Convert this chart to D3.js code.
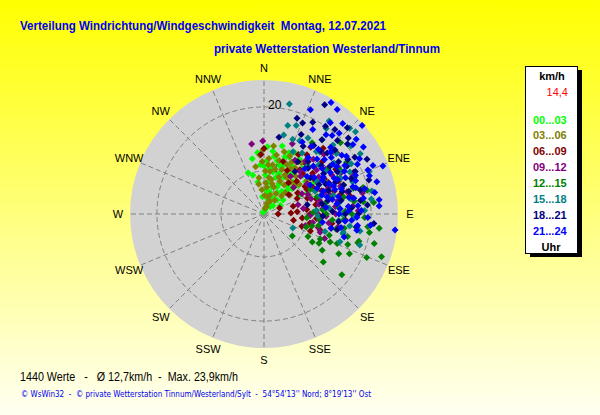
<!DOCTYPE html>
<html>
<head>
<meta charset="utf-8">
<script src="https://cdn.jsdelivr.net/npm/d3@7"></script>
<style>
  html, body { margin: 0; padding: 0; overflow: hidden; background: #ffff80; }
  svg { display: block; font-family: Arial, "Liberation Sans", sans-serif; }
</style>
</head>
<body>
<div id="chart"></div>
<script>
// Chart texts
const titleLine1 = 'Verteilung Windrichtung/Windgeschwindigkeit  Montag, 12.07.2021';
const titleLine2 = 'private Wetterstation Westerland/Tinnum';
const footerStats = '1440 Werte   -   Ø 12,7km/h  -  Max. 23,9km/h';
const footerCopy = '© WsWin32  -  © private Wetterstation Tinnum/Westerland/Sylt  -  54°54\'13\'\' Nord; 8°19\'13\'\' Ost';

// Compass labels (every 22.5 degrees, clockwise from north)
const compass = ['N', 'NNE', 'NE', 'ENE', 'E', 'ESE', 'SE', 'SSE', 'S', 'SSW', 'SW', 'WSW', 'W', 'WNW', 'NW', 'NNW'];

// speed axis (km/h) : centre = lowest speed of the day, rim = top of scale
const speedMin = 3.3;
const speedMax = 24.2;
const speedRings = [10, 20];
const currentSpeed = '14,4';

// legend: hour groups and colours
const hourLabels = ['00...03', '03...06', '06...09', '09...12', '12...15', '15...18', '18...21', '21...24'];
const hourColors = ['#00ff00', '#808000', '#800000', '#800080', '#008000', '#008080', '#000080', '#0000ff'];

// readings per hour group: [direction in degrees, speed in km/h]
const h00 = [[348,12.1],[354,12.9],[339,10.2],[344,9.6],[349,8.4],[2,9.4],[7,10.5],[16,7.7],[32,7.2],[16,5.6],
  [333,3.6],[27,8.7],[54,7.0],[7,8.2],[43,6.3],[44,8.5],[62,9.6],[64,10.8],[15,14.3],[3,11.6],
  [12,10.0],[20,4.4],[35,5.0],[10,6.5],[25,6.0],[40,9.0],[50,10.2],[22,11.5],[30,12.0],[5,7.0],
  [355,6.0],[12,3.9],[48,5.2],[36,10.8],[58,12.3],[18,9.3],[28,9.8],[0,10.8],[45,11.8],[70,11.0],
  [38,7.8],[24,13.0],[62,6.2],[10,12.4],[20,12.8],[26,14.0],[33,13.5],[18,11.2],[40,12.6],[30,10.5],
  [14,11.8],[22,13.6],[28,12.2],[35,11.0],[42,10.0],[48,9.2],[52,11.5],[20,10.0],[26,8.0],[8,13.2],
  [356,11.0],[3,13.8],[15,6.8],[33,6.2],[40,4.8]];
const h03 = [[359,13.3],[356,12.5],[12,12.7],[10,11.1],[355,7.1],[6,7.5],[18,6.4],[28,10.2],[54,8.3],[47,9.9],
  [20,4.5],[2,10.0],[8,9.0],[15,8.2],[22,9.5],[30,7.0],[35,8.8],[40,11.0],[25,11.8],[14,10.5],
  [350,10.8],[352,9.0],[5,12.0],[18,13.5],[38,6.0],[44,7.2],[50,10.5],[58,9.5],[12,6.0],[28,12.5],
  [32,10.0],[3,8.2],[358,11.5],[20,7.8],[42,12.0],[60,11.2],[25,5.5],[10,4.2],[36,13.2],[8,14.0],
  [5,11.0],[12,8.8],[22,10.8],[30,11.5],[16,12.0],[26,9.0],[34,12.0],[45,8.0],[52,11.8],[2,6.2],
  [350,8.0],[15,5.0],[8,10.0],[24,13.2],[40,9.8]];
const h06 = [[90,5.5],[69,5.9],[39,12.2],[36,14.7],[32,12.9],[70,10.5],[96,9.3],[92,12.0],[106,12.4],[101,10.6],
  [42,17.1],[50,18.1],[0,13.5],[357,12.6],[45,10.5],[55,12.8],[60,14.2],[65,9.0],[75,8.0],[80,11.5],
  [85,13.5],[48,15.5],[58,16.5],[28,11.0],[38,9.5],[62,12.0],[72,14.8],[88,7.5],[98,14.0],[110,11.0],
  [52,8.2],[40,13.5],[66,16.0],[78,17.0],[20,12.0],[84,10.0],[56,11.0],[46,14.0],[94,16.0],[102,8.0],
  [50,13.2],[60,11.0],[68,13.0],[74,11.8],[82,12.8],[90,10.5],[95,11.5],[30,14.0],[35,16.0],[44,12.0],
  [64,14.5],[76,15.5],[86,8.5],[108,9.5],[58,9.5]];
const h09 = [[350,14.4],[359,14.7],[22,15.1],[104,12.0],[65,18.7],[75,16.7],[67,18.3],[75,8.8],[100,11.0],[108,12.5],
  [30,13.0],[40,12.0],[50,14.0],[55,11.5],[60,15.5],[70,13.5],[80,15.0],[85,12.5],[90,14.5],[95,16.0],
  [45,16.5],[35,10.5],[62,10.0],[72,11.0],[88,18.0],[98,13.5],[78,19.0],[58,17.0],[48,9.5],[82,9.5],
  [92,10.5],[112,13.5],[68,14.2],[52,12.8],[42,14.8],[85,17.2],[65,12.2],[100,15.0],[56,13.6],[76,12.2],
  [38,13.8],[44,11.5],[54,15.2],[60,13.0],[66,10.8],[70,16.0],[74,14.0],[80,12.0],[84,14.5],[88,11.5],
  [92,13.0],[96,12.0],[102,14.0],[106,10.0],[62,16.8],[48,17.8],[80,17.5]];
const h12 = [[77,19.8],[83,18.9],[97,21.4],[105,21.1],[110,22.8],[113,20.7],[106,18.7],[128,18.7],[129,15.2],[128,8.9],
  [107,10.2],[113,14.5],[114,12.9],[112,15.6],[107,18.6],[97,19.6],[75,19.3],[47,19.6],[34,16.7],[60,17.0],
  [65,14.5],[70,16.5],[80,13.0],[85,15.0],[90,17.0],[95,14.0],[100,16.0],[102,12.0],[108,14.0],[118,16.5],
  [120,12.0],[88,11.0],[92,19.0],[72,12.0],[55,15.5],[62,11.5],[95,10.0],[115,18.0],[122,14.0],[84,20.5],
  [100,20.0],[68,18.5],[78,16.0],[105,16.8],[90,13.0],[117,11.0],[64,16.0],[70,14.0],[76,13.8],[82,17.5],
  [86,12.5],[94,15.8],[98,17.8],[102,14.8],[110,17.2],[104,11.0],[88,16.0],[74,17.8],[58,18.5],[118,13.0],
  [96,12.0]];
const h15 = [[13,20.9],[15,17.6],[14,16.0],[21,15.8],[36,19.8],[45,22.2],[48,22.5],[82,20.2],[110,15.9],[106,13.2],
  [104,16.0],[103,16.0],[95,15.0],[92,17.5],[116,8.3],[92,11.7],[42,16.3],[61,16.8],[30,17.0],[40,16.0],
  [50,18.0],[55,15.0],[60,19.0],[65,16.5],[70,18.0],[75,14.5],[80,17.0],[85,13.5],[88,19.0],[100,18.5],
  [58,13.0],[42,13.5],[25,14.0],[68,21.0],[78,20.5],[35,21.0],[62,14.0],[72,12.5],[96,20.0],[108,19.0],
  [52,20.5],[45,18.5],[26,16.0],[32,14.5],[38,18.0],[48,14.8],[54,16.8],[58,21.0],[64,18.2],[72,16.0],
  [76,18.8],[82,15.0],[90,15.5],[98,16.8],[86,11.5],[66,12.0],[20,18.0]];
const h18 = [[29,22.8],[19,19.1],[23,18.7],[11,15.5],[98,17.9],[57,18.9],[50,20.3],[78,10.2],[55,17.5],[60,16.5],
  [38,18.0],[45,19.5],[50,15.0],[65,19.0],[70,14.0],[75,17.0],[80,15.5],[85,19.5],[90,16.0],[40,14.0],
  [30,15.5],[35,20.0],[48,21.0],[58,20.0],[62,13.0],[68,18.0],[72,20.5],[78,13.5],[88,14.0],[95,20.5],
  [102,15.0],[52,12.5],[42,16.5],[33,13.0],[66,15.5],[82,18.5],[56,14.5],[25,17.0],[46,17.0],[74,16.0],
  [92,12.5],[36,11.5],[28,19.5],[36,16.5],[40,20.5],[44,13.2],[48,18.2],[54,16.0],[60,18.2],[64,14.0],
  [70,16.5],[76,18.8],[80,12.5],[86,17.0],[90,18.0],[96,15.0],[62,21.5],[44,22.0]];
const h21 = [[31,23.6],[24,21.1],[35,23.2],[41,22.0],[48,23.9],[36,20.9],[41,19.5],[51,21.8],[52,20.9],[66,21.9],
  [68,23.3],[67,20.9],[74,21.6],[79,20.9],[83,21.4],[97,23.9],[86,21.3],[106,16.3],[97,18.0],[96,20.0],
  [100,18.0],[45,18.0],[50,17.0],[55,19.0],[58,15.5],[60,20.5],[62,17.5],[65,14.5],[70,18.5],[72,16.0],
  [76,19.5],[80,17.5],[85,16.5],[88,18.5],[90,15.0],[94,17.0],[40,16.5],[38,14.5],[46,14.0],[54,13.0],
  [64,12.5],[75,13.5],[82,14.8],[30,18.5],[28,16.0],[56,22.0],[92,19.5],[102,14.0],[98,12.5],[44,15.2],
  [48,16.0],[52,14.8],[57,16.8],[60,13.8],[63,15.6],[66,17.2],[69,13.2],[71,15.0],[73,17.8],[77,15.2],
  [79,16.8],[84,13.0],[42,12.8],[49,12.2],[58,11.8],[35,16.2],[86,15.2],[67,18.8],[38,19.0],[43,20.5],
  [47,17.5],[53,18.5],[59,18.0],[62,19.8],[65,16.0],[68,15.0],[70,20.8],[74,18.2],[78,14.2],[81,19.0],
  [85,18.0],[88,16.5],[92,17.8],[95,16.0],[100,15.5],[58,14.2],[54,16.5],[72,12.8]];

const hourGroups = [h00, h03, h06, h09, h12, h15, h18, h21];

// layout
const width = 600;
const height = 415;
const center = { x: 264, y: 214 };
const outerR = 134;

const rScale = d3.scaleLinear().domain([speedMin, speedMax]).range([0, outerR]);
const aScale = d3.scaleLinear().domain([0, 360]).range([0, 2 * Math.PI]);

function polar(deg, r) {
  const a = aScale(deg);
  return [center.x + r * Math.sin(a), center.y - r * Math.cos(a)];
}

const svg = d3.select('#chart')
  .append('svg')
  .attr('width', width)
  .attr('height', height)
  .attr('viewBox', `0 0 ${width} ${height}`);

// background gradient
const grad = svg.append('defs').append('linearGradient')
  .attr('id', 'bg')
  .attr('x1', 0).attr('y1', 0).attr('x2', 0).attr('y2', 1);
grad.append('stop').attr('offset', '0%').attr('stop-color', '#ffff00');
grad.append('stop').attr('offset', '100%').attr('stop-color', '#fffff2');

svg.append('rect')
  .attr('width', width)
  .attr('height', height)
  .attr('fill', 'url(#bg)');

// titles
svg.append('text')
  .attr('x', 20).attr('y', 30)
  .attr('font-size', 13).attr('font-weight', 'bold')
  .attr('fill', '#0000f0')
  .attr('textLength', 366).attr('lengthAdjust', 'spacingAndGlyphs')
  .style('white-space', 'pre')
  .text(titleLine1);

svg.append('text')
  .attr('x', 214).attr('y', 53)
  .attr('font-size', 13).attr('font-weight', 'bold')
  .attr('fill', '#0000f0')
  .attr('textLength', 226).attr('lengthAdjust', 'spacingAndGlyphs')
  .text(titleLine2);

// polar disk
const plot = svg.append('g');

plot.append('circle')
  .attr('cx', center.x).attr('cy', center.y)
  .attr('r', outerR)
  .attr('fill', '#d2d2d2');

// radial grid lines
plot.append('g')
  .selectAll('line')
  .data(compass)
  .join('line')
  .attr('x1', center.x).attr('y1', center.y)
  .attr('x2', (d, i) => polar(i * 22.5, outerR)[0])
  .attr('y2', (d, i) => polar(i * 22.5, outerR)[1])
  .attr('stroke', '#808080')
  .attr('stroke-width', 1)
  .attr('stroke-dasharray', '5,3');

// speed rings
plot.append('g')
  .selectAll('circle')
  .data(speedRings)
  .join('circle')
  .attr('cx', center.x).attr('cy', center.y)
  .attr('r', d => rScale(d))
  .attr('fill', 'none')
  .attr('stroke', '#808080')
  .attr('stroke-width', 1)
  .attr('stroke-dasharray', '5,3');

plot.append('g')
  .selectAll('text')
  .data(speedRings)
  .join('text')
  .attr('x', center.x + 4)
  .attr('y', d => center.y - rScale(d) + 2)
  .attr('font-size', 12)
  .attr('fill', '#000')
  .text(d => d);

// centre marker
plot.append('rect')
  .attr('x', center.x - 2.5).attr('y', center.y - 2.5)
  .attr('width', 5).attr('height', 5)
  .attr('fill', '#8c8c8c');

// compass labels
svg.append('g')
  .selectAll('text')
  .data(compass)
  .join('text')
  .attr('x', (d, i) => polar(i * 22.5, 146)[0])
  .attr('y', (d, i) => polar(i * 22.5, 146)[1])
  .attr('text-anchor', 'middle')
  .attr('dominant-baseline', 'central')
  .attr('font-size', 11)
  .attr('fill', '#000')
  .text(d => d);

// readings as small diamonds
const diamond = 'M0,-3.5L3.5,0L0,3.5L-3.5,0Z';
const dots = plot.append('g').attr('class', 'dots');

hourGroups.forEach((group, gi) => {
  dots.append('g')
    .selectAll('path')
    .data(group)
    .join('path')
    .attr('d', diamond)
    .attr('transform', d => {
      const [x, y] = polar(d[0], rScale(d[1]));
      return `translate(${x},${y})`;
    })
    .attr('fill', hourColors[gi]);
});

// legend box with shadow
const legend = svg.append('g');
legend.append('rect')
  .attr('x', 530).attr('y', 70)
  .attr('width', 52).attr('height', 187)
  .attr('fill', '#000');
legend.append('rect')
  .attr('x', 525.5).attr('y', 66.5)
  .attr('width', 52).attr('height', 187)
  .attr('fill', '#fff')
  .attr('stroke', '#000');

legend.append('text')
  .attr('x', 552).attr('y', 80)
  .attr('text-anchor', 'middle')
  .attr('font-size', 11).attr('font-weight', 'bold')
  .text('km/h');

legend.append('text')
  .attr('x', 568).attr('y', 96)
  .attr('text-anchor', 'end')
  .attr('font-size', 11)
  .attr('fill', '#ff0000')
  .text(currentSpeed);

legend.append('g')
  .selectAll('text')
  .data(hourLabels)
  .join('text')
  .attr('x', 533)
  .attr('y', (d, i) => 123.5 + i * 15.9)
  .attr('font-size', 11).attr('font-weight', 'bold')
  .attr('fill', (d, i) => hourColors[i])
  .text(d => d);

legend.append('text')
  .attr('x', 551).attr('y', 251)
  .attr('text-anchor', 'middle')
  .attr('font-size', 11).attr('font-weight', 'bold')
  .text('Uhr');

// footer
svg.append('text')
  .attr('x', 20).attr('y', 381)
  .attr('font-size', 12)
  .attr('fill', '#000')
  .attr('textLength', 218).attr('lengthAdjust', 'spacingAndGlyphs')
  .style('white-space', 'pre')
  .text(footerStats);

svg.append('text')
  .attr('x', 21).attr('y', 397)
  .attr('font-family', 'Verdana, "DejaVu Sans", sans-serif')
  .attr('font-size', 8)
  .attr('fill', '#0000f0')
  .attr('textLength', 350).attr('lengthAdjust', 'spacingAndGlyphs')
  .style('white-space', 'pre')
  .text(footerCopy);
</script>
</body>
</html>
